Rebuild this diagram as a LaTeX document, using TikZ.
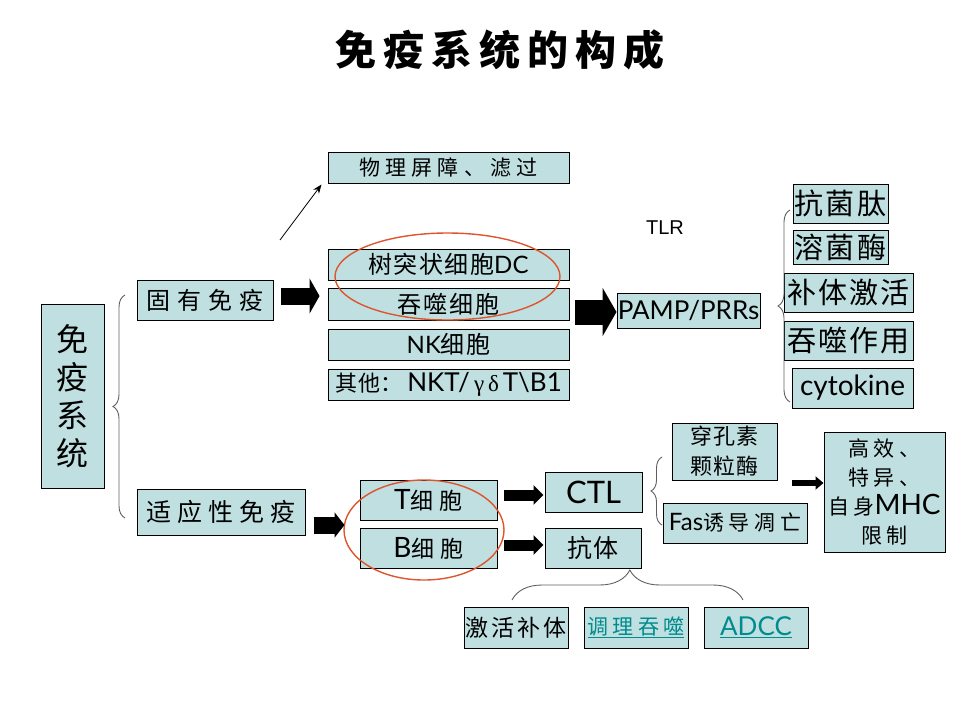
\documentclass[tikz,border=0pt]{standalone}
\usepackage{fontspec}
\setmainfont{Lato}
\newfontfamily\cjk{Noto Sans CJK SC}
\newfontfamily\arialf{Liberation Sans}
\newfontfamily\serf{Liberation Serif}
\usetikzlibrary{arrows.meta,decorations.pathreplacing,calc}
\definecolor{boxfill}{RGB}{191,223,225}
\definecolor{ered}{RGB}{222,84,44}
\definecolor{linkteal}{RGB}{0,140,140}
\definecolor{bracegray}{RGB}{95,95,95}
\newcommand\zh[2][0]{{\cjk\addfontfeatures{LetterSpace=#1}#2}}
\newcommand\fs[1]{\fontsize{#1}{\dimexpr#1pt*6/5\relax}\selectfont}
\begin{document}
\begin{tikzpicture}[x=1pt,y=-1pt,
  box/.style={draw=black,line width=1pt,fill=boxfill,inner sep=0pt,align=center},
  brc/.style={draw=bracegray,line width=0.9pt,decorate},
  redell/.style={draw=ered,line width=1.4pt},
  fatarrow/.style={line width=#1,draw=black},
  thin/.style={draw=black,line width=0.8pt,-{Stealth[length=9pt,width=7pt]}}
]
\useasboundingbox (0,0) rectangle (960,720);

% title
\node[font=\fs{41}\bfseries] (title) at (500,50) {\zh[17]{免疫系统的构成}};

% left column
\node[box,minimum width=63pt,minimum height=184pt,font=\fontsize{32}{38}\selectfont] (my) at (72.5,396) {\zh{免}\\\zh{疫}\\\zh{系}\\\zh{统}};
\node[box,minimum width=136pt,minimum height=40pt,font=\fs{24}] (gy) at (205,300) {\zh[28]{固有免疫}};
\node[box,minimum width=168pt,minimum height=46pt,font=\fs{25}] (sy) at (221,512) {\zh[24]{适应性免疫}};

% innate cells
\node[box,minimum width=241pt,minimum height=31pt,font=\fs{21}] (wl) at (448.5,167.5) {\zh[24]{物理屏障、滤过}};
\node[box,minimum width=241pt,minimum height=31pt,font=\fs{24}] (dc) at (448.5,264.5) {\zh[6]{树突状细胞}DC};
\node[box,minimum width=241pt,minimum height=32pt,font=\fs{24}] (tc) at (448.5,304) {\zh[8]{吞噬细胞}};
\node[box,minimum width=241pt,minimum height=31pt,font=\fs{24}] (nk) at (448.5,344.5) {NK\zh[6]{细胞}};
\node[box,minimum width=241pt,minimum height=31pt,font=\fs{26}] (qt) at (448.5,384.5) {{\fs{22}\zh[4]{其他：}}\,NKT/\,{\serf\fs{23}γ\,δ\,}T\textbackslash B1};

% PAMP branch
\node[box,minimum width=143pt,minimum height=35pt,font=\fs{26}] (pamp) at (688.5,310.5) {PAMP/PRRs};
\node[font=\arialf\fs{20}] (tlr) at (665,228) {TLR};
\node[box,minimum width=95pt,minimum height=39pt,font=\fs{29}] (kj) at (840.5,203.5) {\zh[7]{抗菌肽}};
\node[box,minimum width=95pt,minimum height=34pt,font=\fs{29}] (rj) at (840.5,247) {\zh[7]{溶菌酶}};
\node[box,minimum width=129pt,minimum height=39pt,font=\fs{29}] (bt) at (848.5,292.5) {\zh[7]{补体激活}};
\node[box,minimum width=129pt,minimum height=39pt,font=\fs{29}] (tz) at (848.5,340.5) {\zh[7]{吞噬作用}};
\node[box,minimum width=121pt,minimum height=40pt,font=\fs{28}] (cyt) at (852.5,388) {cytokine};

% adaptive
\node[box,minimum width=137pt,minimum height=40pt,font=\fs{28}] (T) at (428.5,500) {T{\fs{23}\zh[26]{细胞}}};
\node[box,minimum width=137pt,minimum height=40pt,font=\fs{28}] (B) at (428.5,548) {B{\fs{23}\zh[26]{细胞}}};
\node[box,minimum width=97pt,minimum height=40pt,font=\fs{31}] (ctl) at (593.5,492) {CTL};
\node[box,minimum width=96pt,minimum height=40pt,font=\fs{25}] (kt) at (593,548) {\zh[4]{抗体}};
\node[box,minimum width=105pt,minimum height=57pt,font=\fontsize{22}{30}\selectfont] (ck) at (724.5,451.5) {\zh[5]{穿孔素}\\\zh[5]{颗粒酶}};
\node[box,minimum width=144pt,minimum height=40pt,font=\fs{24}] (fas) at (735,523) {Fas{\fs{21}\zh[22]{诱导凋亡}}};
\node[box,minimum width=121pt,minimum height=120pt,font=\fontsize{21}{29}\selectfont] (gx) at (884.5,492) {\zh[20]{高效、}\\\zh[20]{特异、}\\\zh[20]{自身}{\fontsize{28}{29}\selectfont MHC}\\\zh[20]{限制}};
\node[box,minimum width=104pt,minimum height=41pt,font=\fs{23}] (jh) at (516,627.5) {\zh[12]{激活补体}};
\node[box,minimum width=104pt,minimum height=41pt,font=\fs{21},text=linkteal] (tl) at (636,627.5) {\underline{\zh[20]{调理吞噬}}};
\node[box,minimum width=104pt,minimum height=41pt,font=\fs{26},text=linkteal] (adcc) at (756,627.5) {\underline{ADCC}};

% red ellipses
\draw[redell] (447.5,276.5) ellipse [x radius=112.5pt, y radius=43.5pt];
\draw[redell] (424,530) ellipse [x radius=80pt, y radius=50pt];

% braces
\draw[brc,decoration={brace,amplitude=12pt}] (125,518) -- (125,295);
\draw[brc,decoration={brace,amplitude=12pt}] (790,402) -- (790,210);
\draw[brc,decoration={brace,amplitude=11pt}] (662,525) -- (662,457);
\draw[brc,decoration={brace,amplitude=30pt,aspect=0.51}] (512,600) -- (743,600);

% thin arrow
\coordinate (thinstart) at (280,240);
\draw[thin] (thinstart) -- ([xshift=-6pt,yshift=-1pt]wl.south west);

% fat arrows
\draw[fatarrow=17pt,-{Triangle[length=10pt,width=35pt]}] ($(gy.east)+(7,-4)$) -- ($(gy.east -| dc.west)+(-8,-4)$);
\draw[fatarrow=17pt,-{Triangle[length=10pt,width=25pt]}] ($(sy.east)+(8,13)$) -- ($(sy.east -| T.west)+(-15,13)$);
\draw[fatarrow=11pt,-{Triangle[length=10pt,width=19pt]}] ($(T.east)+(6,-5)$) -- ($(T.east -| ctl.west)+(-1,-5)$);
\draw[fatarrow=11pt,-{Triangle[length=10pt,width=19pt]}] ($(B.east)+(6,-3)$) -- ($(B.east -| kt.west)+(-1,-3)$);
\draw[fatarrow=25pt,-{Triangle[length=14pt,width=48pt]}] ($(pamp.west)+(-42,1.5)$) -- ($(pamp.west)+(0,1.5)$);
\coordinate (gxstart) at (792,483);
\draw[fatarrow=6pt,-{Triangle[length=8pt,width=13pt]}] (gxstart) -- (gxstart -| gx.west);
\end{tikzpicture}
\end{document}
